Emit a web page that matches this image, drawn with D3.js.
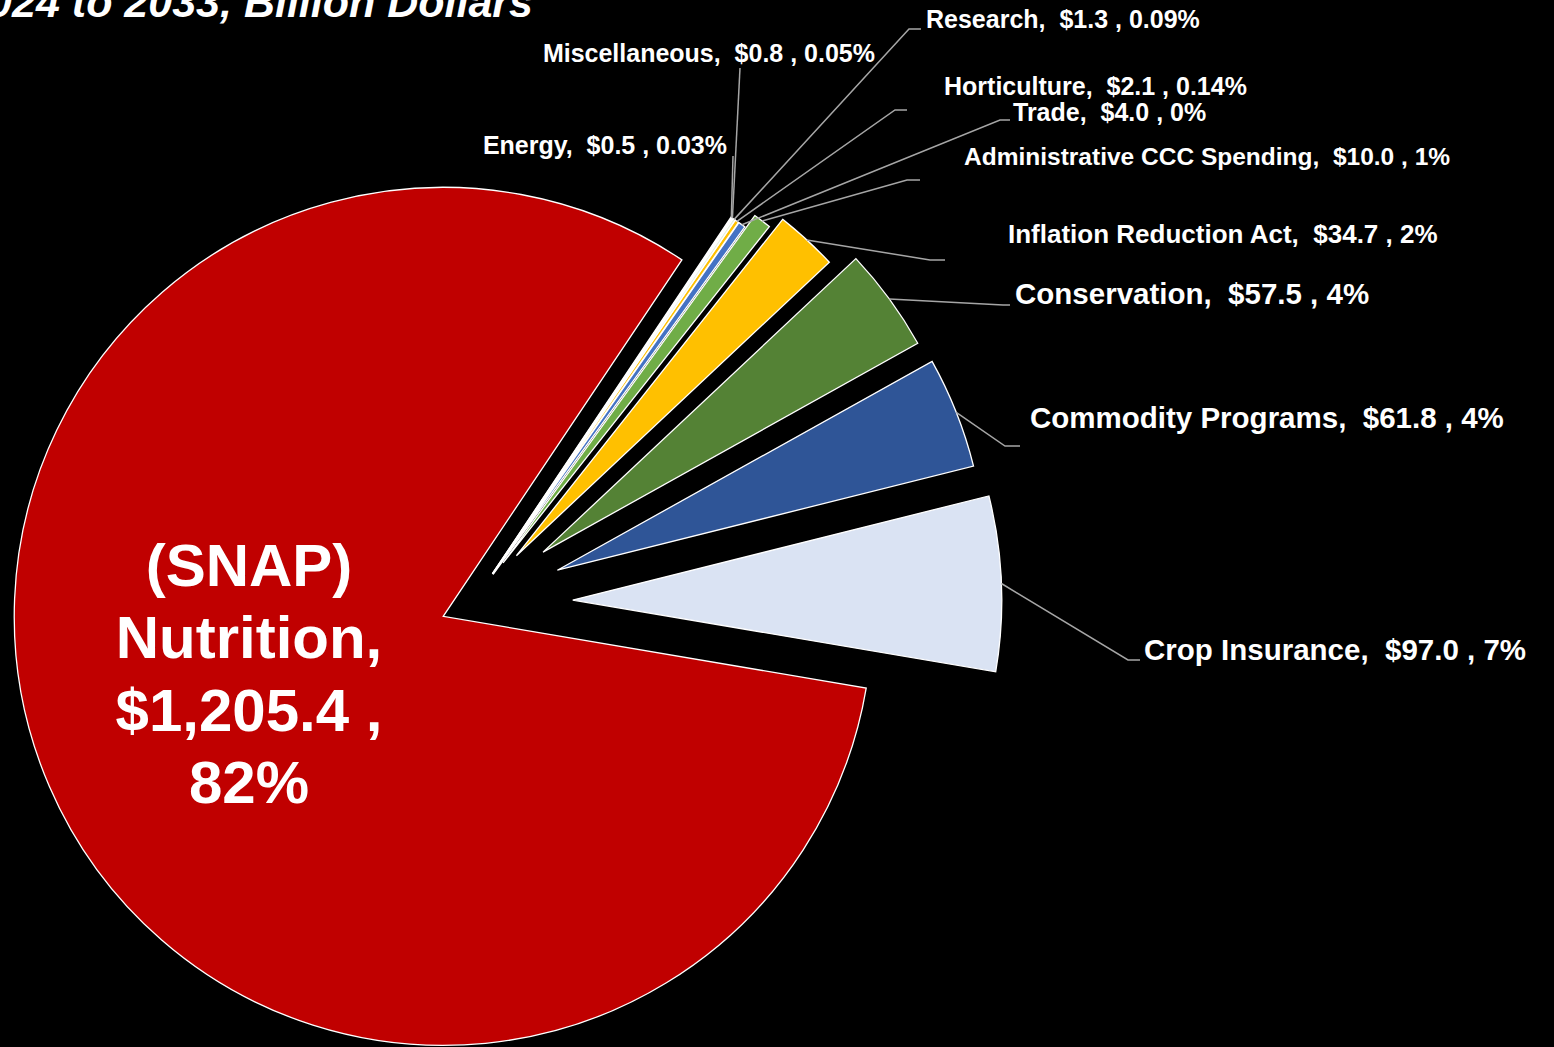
<!DOCTYPE html>
<html>
<head>
<meta charset="utf-8">
<script src="https://cdn.jsdelivr.net/npm/d3@7"></script>
<style>
  html, body { margin: 0; padding: 0; background: #000; overflow: hidden; }
  svg { display: block; }
  text { font-family: "Liberation Sans", Arial, sans-serif; font-weight: bold; fill: #fff; }
</style>
</head>
<body>
<svg id="chart" width="1554" height="1047"></svg>
<script>
// ---- data ----
const categories = ["Energy", "Miscellaneous", "Research", "Horticulture", "Trade",
  "Administrative CCC Spending", "Inflation Reduction Act", "Conservation",
  "Commodity Programs", "Crop Insurance", "(SNAP) Nutrition"];
const values = [0.5, 0.8, 1.3, 2.1, 4.0, 10.0, 34.7, 57.5, 61.8, 97.0, 1205.4];
const pctLabels = ["0.03%", "0.05%", "0.09%", "0.14%", "0%", "1%", "2%", "4%", "4%", "7%", "82%"];
const titleText = "2024 to 2033, Billion Dollars";

// ---- styles / layout ----
const colors = ["#F2F2F2", "#D9D9D9", "#E2EFDA", "#FFC000", "#4472C4", "#70AD47",
  "#FFC000", "#548235", "#2F5597", "#DAE3F3", "#C00000"];
const explode = [0.085, 0.085, 0.085, 0.085, 0.085, 0.12, 0.153, 0.205, 0.214, 0.235, 0.073];
// label anchor: [x, baselineY, anchor, fontSize]
const labelPos = [
  [727, 154, "end", 25], [875, 62, "end", 25], [926, 28, "start", 25],
  [944, 95, "start", 25], [1013, 121, "start", 25], [964, 165, "start", 24.5],
  [1008, 243, "start", 26], [1015, 304, "start", 29.5], [1030, 428, "start", 29.5],
  [1144, 660, "start", 29.5], null];
// leader: [elbowX, elbowY, endX, endY]
const leaders = [
  [733, 156, 733, 156], [740, 68, 740, 68], [909, 29, 921, 29],
  [895, 110, 907, 110], [1000, 120, 1010, 120], [907, 180, 920, 180],
  [930, 260, 945, 260], [1003, 305, 1010, 305], [1005, 446, 1020, 446],
  [1128, 660, 1140, 660], null];

const cx = 472, cy = 604, R = 429;
const startDeg = 33.8;

const svg = d3.select("#chart");
svg.append("rect").attr("width", 1554).attr("height", 1047).attr("fill", "#000");

const data = categories.map((c, i) => ({ cat: c, value: values[i], pct: pctLabels[i], i }));
const pie = d3.pie().sort(null).value(d => d.value)
  .startAngle(startDeg * Math.PI / 180)
  .endAngle(startDeg * Math.PI / 180 + 2 * Math.PI);
const arcs = pie(data);
const arc = d3.arc().innerRadius(0).outerRadius(R);

const g = svg.append("g").attr("transform", `translate(${cx},${cy})`);

function offset(a) {
  const mid = (a.startAngle + a.endAngle) / 2;
  const d = explode[a.data.i] * R;
  return [Math.sin(mid) * d, -Math.cos(mid) * d];
}

// leader lines (behind slices)
const fmt = d3.format(",.1f");
arcs.forEach(a => {
  const L = leaders[a.data.i];
  if (!L) return;
  const [ox, oy] = offset(a);
  const mid = (a.startAngle + a.endAngle) / 2;
  const sx = cx + ox + Math.sin(mid) * R;
  const sy = cy + oy - Math.cos(mid) * R;
  svg.append("path")
    .attr("d", d3.line()([[sx, sy], [L[0], L[1]], [L[2], L[3]]]))
    .attr("fill", "none")
    .attr("stroke", "#A6A6A6")
    .attr("stroke-width", 1.5);
});

// slices: draw tiny ones last so they stay visible
const order = arcs.slice().sort((a, b) => b.value - a.value);
g.selectAll("path.slice")
  .data(order)
  .join("path")
  .attr("class", "slice")
  .attr("d", arc)
  .attr("transform", a => { const [ox, oy] = offset(a); return `translate(${ox},${oy})`; })
  .attr("fill", a => colors[a.data.i])
  .attr("stroke", "#fff")
  .attr("stroke-width", 1.3)
  .attr("stroke-linejoin", "miter");

// outside labels
arcs.forEach(a => {
  const P = labelPos[a.data.i];
  if (!P) return;
  svg.append("text")
    .attr("x", P[0]).attr("y", P[1])
    .attr("text-anchor", P[2])
    .attr("font-size", P[3])
    .attr("xml:space", "preserve")
    .style("white-space", "pre")
    .text(`${a.data.cat},  $${fmt(a.data.value)} , ${a.data.pct}`);
});

// nutrition inside label
const nut = arcs[arcs.length - 1];
const nutLines = ["(SNAP)", "Nutrition,", `$${fmt(nut.data.value)} ,`, nut.data.pct];
const nt = svg.append("text")
  .attr("text-anchor", "middle")
  .attr("font-size", 60);
nutLines.forEach((t, k) => {
  nt.append("tspan").attr("x", 249).attr("y", 586 + k * 72.3).text(t);
});

// title (partly off-canvas, as in the reference)
svg.append("text")
  .attr("x", 533).attr("y", 17)
  .attr("text-anchor", "end")
  .attr("font-size", 43)
  .attr("font-style", "italic")
  .text(titleText);
</script>
</body>
</html>
